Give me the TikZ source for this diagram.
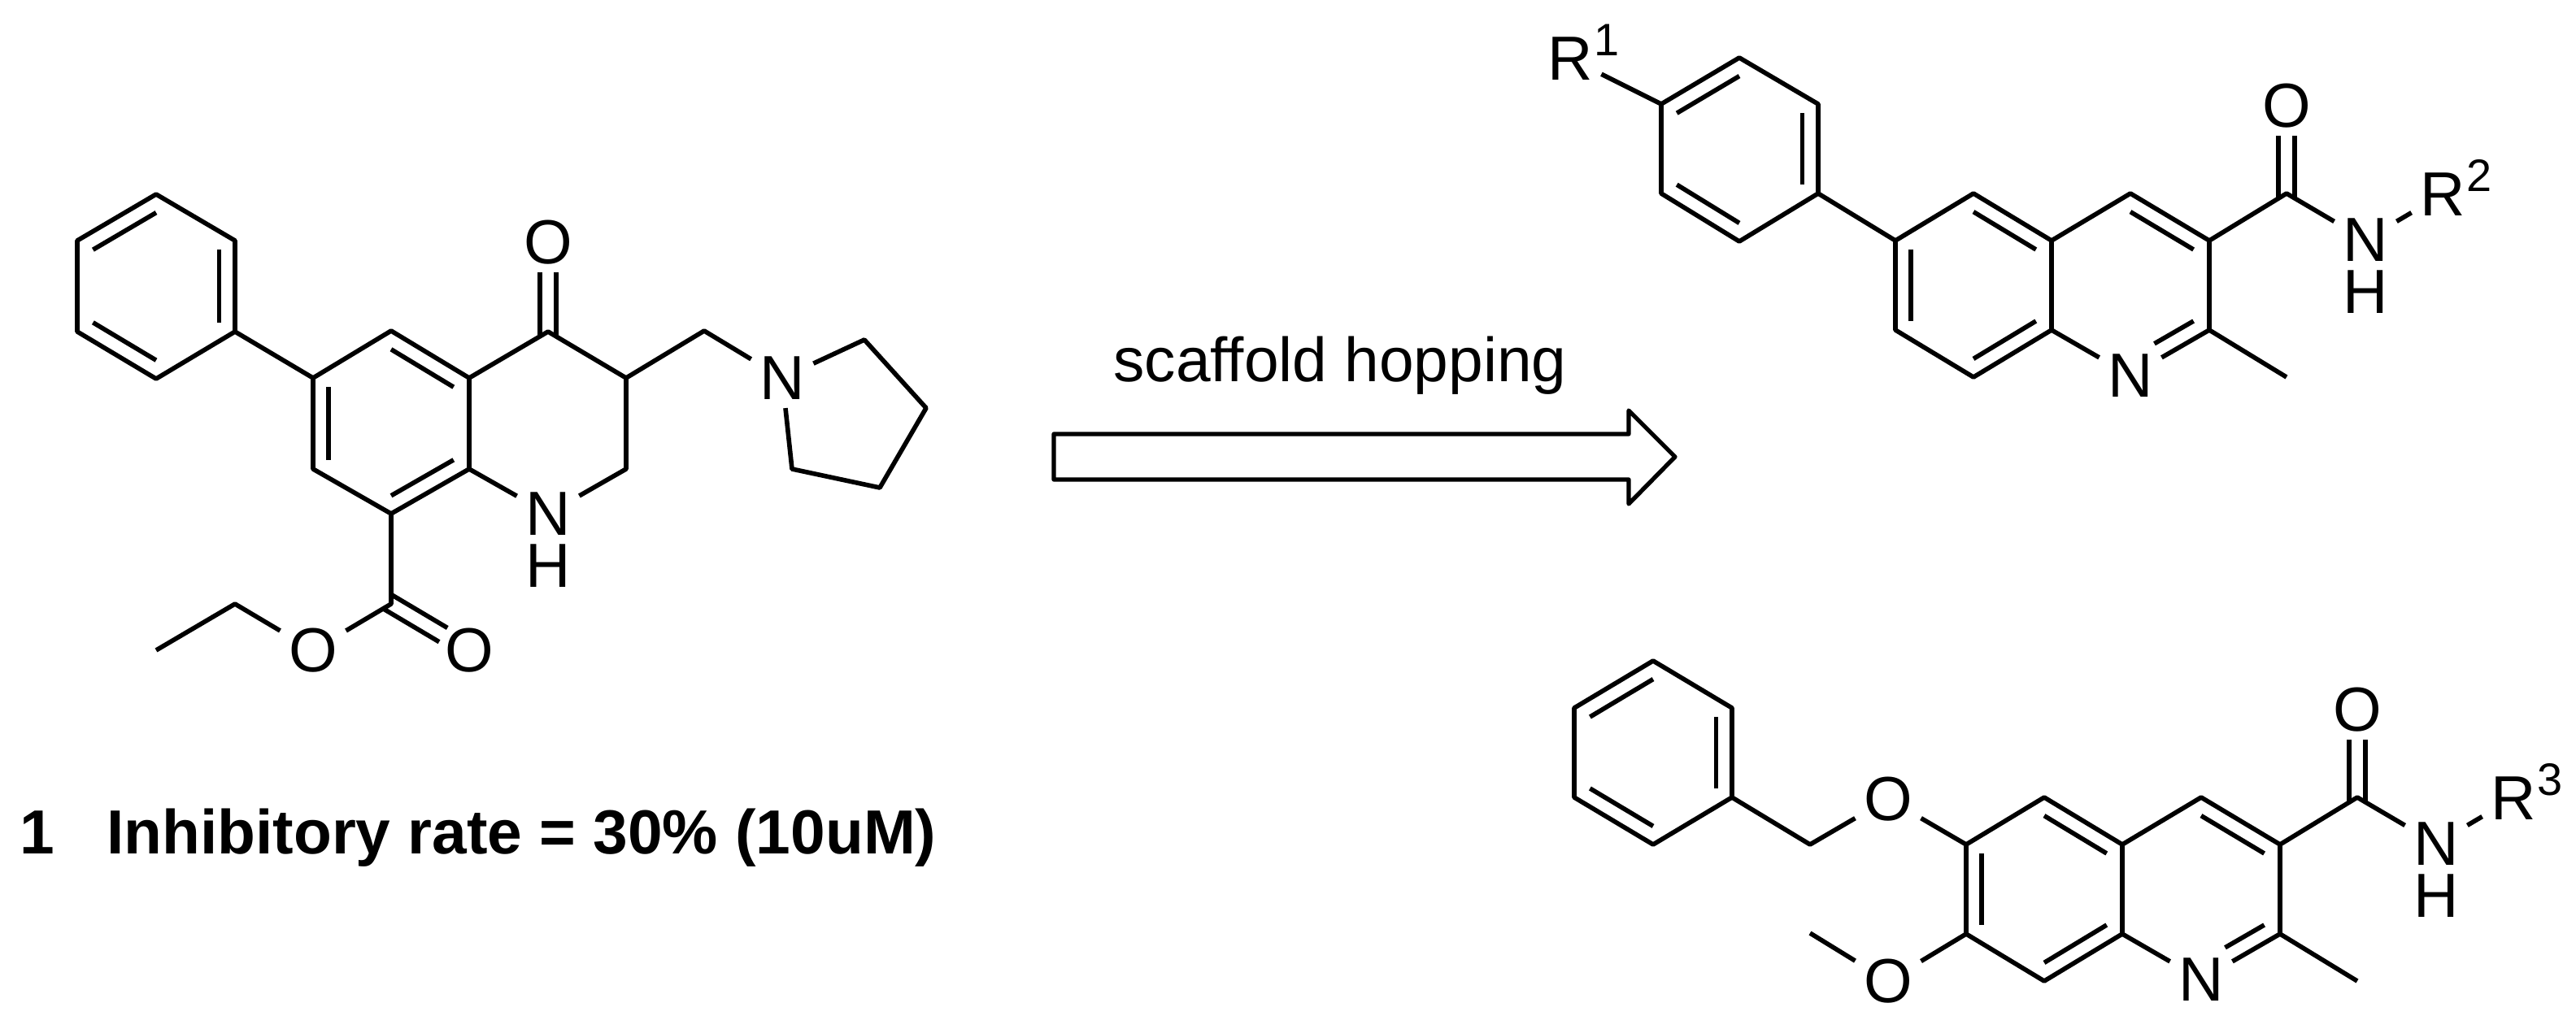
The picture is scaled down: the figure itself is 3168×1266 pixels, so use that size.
\documentclass[tikz,border=0pt]{standalone}
\usepackage{fontspec}
\setmainfont{Liberation Sans}
\usepackage{tikz}
\usetikzlibrary{positioning,calc}
\newcommand\atomFont{\fontsize{21.8}{26}\selectfont}
\newcommand\superFont{\fontsize{15.9}{19}\selectfont}
\tikzset{
  bond-style/.style = {
    draw, line width=1.6pt, line join=round
  },
  atom-style/.style = {
    font=\atomFont, inner sep=0.1cm
  },
  super-style/.style = {
    font=\superFont, inner sep=0pt, anchor=base west
  },
  caption-style/.style = {
    font=\atomFont, inner sep=0pt
  },
  hop-style/.style = {
    draw, line width=1.5pt, line join=round
  }
}
\def\createInner from:#1 to:#2 ring:#3;{
  \draw[bond-style] ($(#1)!0.2!(#3)$) -- ($(#2)!0.2!(#3)$);
}
\def\createInnerCut from:#1 to:#2 ring:#3;{
  \draw[bond-style, shorten >=0.34cm] ($(#1)!0.2!(#3)$) -- ($(#2)!0.2!(#3)$);
}
\def\createDouble from:#1 to:#2;{
  \draw[bond-style, shorten <=-0.05cm, shorten >=0.37cm]
    ($(#1)!0.1cm!90:(#2)$) -- ($(#2)!0.1cm!-90:(#1)$);
  \draw[bond-style, shorten <=-0.05cm, shorten >=0.37cm]
    ($(#1)!0.1cm!-90:(#2)$) -- ($(#2)!0.1cm!90:(#1)$);
}
% quinoline with its amide, given at the place of the upper one
\def\createCore name:#1 shift:#2 rest:#3;{
  \begin{scope}[shift={#2}]
    \coordinate (#1c6) at (2331,296);
    \coordinate (#1c5) at (2427,238);
    \coordinate (#1c4a) at (2523,296);
    \coordinate (#1c8a) at (2523,406);
    \coordinate (#1c8) at (2427,464);
    \coordinate (#1c7) at (2331,406);
    \coordinate (#1c4) at (2620,238);
    \coordinate (#1c3) at (2717,296);
    \coordinate (#1c2) at (2717,406);
    \coordinate (#1me) at (2812,464);
    \coordinate (#1co) at (2812,238);
    \coordinate (#1left) at (2427,351);
    \coordinate (#1right) at (2620,351);
    \node[atom-style] (#1n) at (2620,462) {N};
    \node[atom-style] (#1o) at (2812,130) {O};
    \node[atom-style] (#1nh) at (2909,295) {N};
    \node[atom-style, below=-0.1cm of #1nh] (#1h) {H};
    \node[atom-style] (#1r) at (3004,239) {R};
    \node[super-style] (#1sup) at ([xshift=-0.1cm,yshift=0.3cm]#1r.base east) {#3};
  \end{scope}
  \draw[bond-style] (#1c6) -- (#1c5) -- (#1c4a) -- (#1c8a) -- (#1c8) -- (#1c7) -- cycle;
  \draw[bond-style] (#1c4a) -- (#1c4) -- (#1c3) -- (#1c2) -- (#1n) -- (#1c8a);
  \draw[bond-style] (#1c2) -- (#1me);
  \draw[bond-style] (#1c3) -- (#1co) -- (#1nh) -- (#1r);
  \createDouble from:#1co to:#1o;
  \createInner from:#1c6 to:#1c7 ring:#1left;
  \createInner from:#1c5 to:#1c4a ring:#1left;
  \createInner from:#1c8 to:#1c8a ring:#1left;
  \createInner from:#1c4 to:#1c3 ring:#1right;
  \createInnerCut from:#1c2 to:#1n ring:#1right;
}
\begin{document}
\begin{tikzpicture}[x=0.01cm,y=-0.01cm]
  \useasboundingbox (0,0) rectangle (3168,1266);

  % compound 1
  \coordinate (ph1) at (192,239);
  \coordinate (ph2) at (289,296);
  \coordinate (ph3) at (289,408);
  \coordinate (ph4) at (192,466);
  \coordinate (ph5) at (95,408);
  \coordinate (ph6) at (95,296);
  \coordinate (phc) at (192,352);
  \draw[bond-style] (ph1) -- (ph2) -- (ph3) -- (ph4) -- (ph5) -- (ph6) -- cycle;
  \createInner from:ph6 to:ph1 ring:phc;
  \createInner from:ph2 to:ph3 ring:phc;
  \createInner from:ph4 to:ph5 ring:phc;

  \coordinate (a1) at (385,465);
  \coordinate (a2) at (481,407);
  \coordinate (a3) at (577,465);
  \coordinate (a4) at (577,577);
  \coordinate (a5) at (481,632);
  \coordinate (a6) at (385,577);
  \coordinate (ac) at (481,521);
  \draw[bond-style] (a1) -- (a2) -- (a3) -- (a4) -- (a5) -- (a6) -- cycle;
  \createInner from:a1 to:a6 ring:ac;
  \createInner from:a2 to:a3 ring:ac;
  \createInner from:a5 to:a4 ring:ac;
  \draw[bond-style] (ph3) -- (a1);

  \coordinate (keto) at (674,408);
  \coordinate (b3) at (770,465);
  \coordinate (b2) at (770,577);
  \coordinate (link) at (866,407);
  \node[atom-style] (ketoO) at (674,298) {O};
  \node[atom-style] (nh) at (674,632) {N};
  \node[atom-style, below=-0.1cm of nh] (nhH) {H};
  \node[atom-style] (pyrN) at (962,465) {N};
  \coordinate (py1) at (1063,418);
  \coordinate (py2) at (1139,502);
  \coordinate (py3) at (1082,600);
  \coordinate (py4) at (974,577);
  \draw[bond-style] (a3) -- (keto) -- (b3) -- (b2) -- (nh) -- (a4);
  \createDouble from:keto to:ketoO;
  \draw[bond-style] (b3) -- (link) -- (pyrN) -- (py1) -- (py2) -- (py3) -- (py4) -- (pyrN);

  \coordinate (est) at (481,743);
  \coordinate (ethA) at (289,743);
  \coordinate (ethB) at (192,800);
  \node[atom-style] (estO) at (385,800) {O};
  \node[atom-style] (estD) at (577,800) {O};
  \draw[bond-style] (a5) -- (est) -- (estO) -- (ethA) -- (ethB);
  \createDouble from:est to:estD;

  \node[caption-style, anchor=base west] (caption) at (24,1050)
    {\bfseries 1\ \ \ Inhibitory rate = 30\% (10uM)};

  % arrow
  \node[caption-style, anchor=base] (hopLabel) at (1648,469) {scaffold hopping};
  \coordinate (hop1) at (1296,534);
  \coordinate (hop2) at (2003,534);
  \coordinate (hop3) at (2003,505);
  \coordinate (hop4) at (2060,562);
  \coordinate (hop5) at (2003,620);
  \coordinate (hop6) at (2003,590);
  \coordinate (hop7) at (1296,590);
  \draw[hop-style] (hop1) -- (hop2) -- (hop3) -- (hop4) -- (hop5) -- (hop6) -- (hop7) -- cycle;

  % upper product
  \createCore name:u shift:{(0,0)} rest:2;
  \coordinate (uph1) at (2139,71);
  \coordinate (uph2) at (2236,128);
  \coordinate (uph3) at (2236,238);
  \coordinate (uph4) at (2139,297);
  \coordinate (uph5) at (2043,238);
  \coordinate (uph6) at (2043,128);
  \coordinate (uphc) at (2139,184);
  \node[atom-style] (ur1) at (1931,72) {R};
  \node[super-style] (ur1sup) at ([xshift=-0.1cm,yshift=0.3cm]ur1.base east) {1};
  \draw[bond-style] (uph1) -- (uph2) -- (uph3) -- (uph4) -- (uph5) -- (uph6) -- cycle;
  \createInner from:uph1 to:uph6 ring:uphc;
  \createInner from:uph2 to:uph3 ring:uphc;
  \createInner from:uph4 to:uph5 ring:uphc;
  \draw[bond-style] (uph6) -- (ur1);
  \draw[bond-style] (uph3) -- (uc6);

  % lower product
  \createCore name:l shift:{(87,743)} rest:3;
  \coordinate (lph1) at (2033,813);
  \coordinate (lph2) at (2130,871);
  \coordinate (lph3) at (2130,981);
  \coordinate (lph4) at (2033,1039);
  \coordinate (lph5) at (1936,981);
  \coordinate (lph6) at (1936,871);
  \coordinate (lphc) at (2033,926);
  \coordinate (benzyl) at (2226,1039);
  \coordinate (methyl) at (2226,1148);
  \node[atom-style] (lo1) at (2322,983) {O};
  \node[atom-style] (lo2) at (2322,1207) {O};
  \draw[bond-style] (lph1) -- (lph2) -- (lph3) -- (lph4) -- (lph5) -- (lph6) -- cycle;
  \createInner from:lph6 to:lph1 ring:lphc;
  \createInner from:lph2 to:lph3 ring:lphc;
  \createInner from:lph4 to:lph5 ring:lphc;
  \draw[bond-style] (lph3) -- (benzyl) -- (lo1) -- (lc6);
  \draw[bond-style] (methyl) -- (lo2) -- (lc7);
\end{tikzpicture}
\end{document}
